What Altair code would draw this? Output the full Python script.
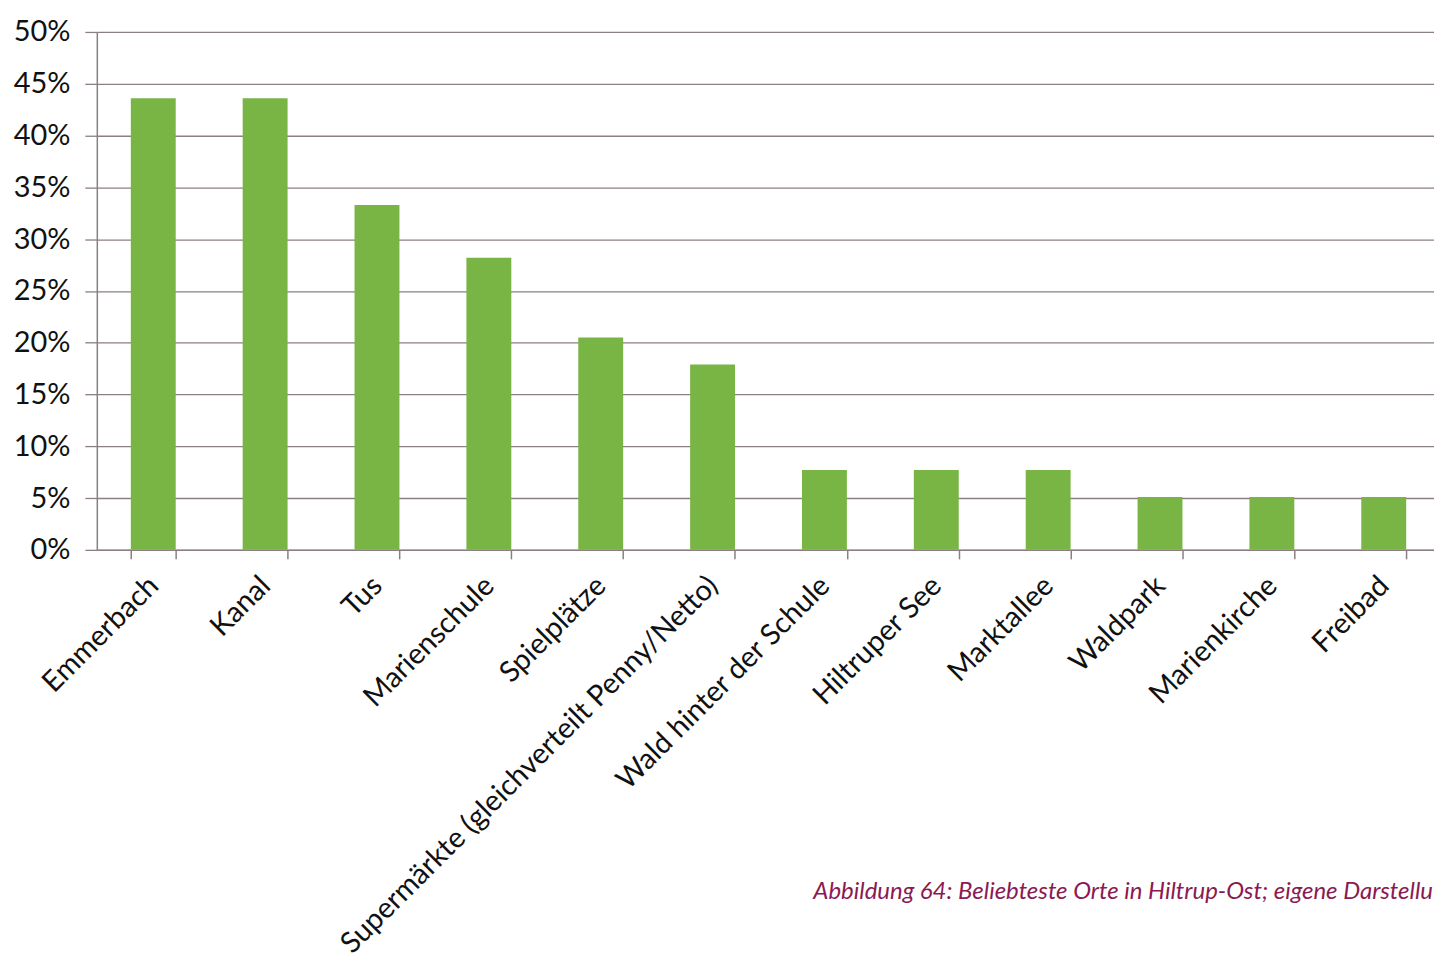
import altair as alt
import pandas as pd

categories = ["Emmerbach", "Kanal", "Tus", "Marienschule", "Spielplätze",
              "Supermärkte (gleichverteilt Penny/Netto)", "Wald hinter der Schule",
              "Hiltruper See", "Marktallee", "Waldpark", "Marienkirche", "Freibad"]
values = [0.436, 0.436, 0.333, 0.282, 0.205, 0.179, 0.077, 0.077, 0.077, 0.051, 0.051, 0.051]
y_ticks = [0, 0.05, 0.10, 0.15, 0.20, 0.25, 0.30, 0.35, 0.40, 0.45, 0.50]
caption = ["Abbildung 64: Beliebteste Orte in Hiltrup-Ost; eigene Darstellu"]

df = pd.DataFrame({"Ort": categories, "Anteil": values})
cap_df = pd.DataFrame({"text": caption})

W, H = 1340, 519
FONT = "Lato"
GRID = "#8c7f7f"

bars = alt.Chart(df).mark_bar(color="#79b545", size=45).encode(
    x=alt.X("Ort:N", sort=categories, title=None,
            scale=alt.Scale(paddingInner=0.6, paddingOuter=0.277, align=0.55),
            axis=alt.Axis(labelAngle=-45, labelAlign="right", labelBaseline="middle",
                          labelFontSize=29, labelFont=FONT, labelColor="#111",
                          labelPadding=22, labelLimit=700,
                          tickBand="extent", tickSize=9, tickColor=GRID,
                          domainColor=GRID, domainWidth=1.5, tickWidth=1.5)),
    y=alt.Y("Anteil:Q", title=None,
            scale=alt.Scale(domain=[0, 0.5], nice=False),
            axis=alt.Axis(values=y_ticks, format=".0%", labelFontSize=29, labelFont=FONT,
                          labelColor="#111", labelPadding=15, tickSize=12,
                          tickColor=GRID, domainColor=GRID, domainWidth=1.5,
                          gridColor=GRID, gridWidth=1.3, tickWidth=1.3)),
)

cap = alt.Chart(cap_df).mark_text(
    align="right", baseline="middle", font=FONT, fontStyle="italic",
    fontSize=24, color="#8a1a52"
).encode(text="text:N", x=alt.value(W - 1), y=alt.value(862))

chart = alt.layer(bars, cap).properties(
    width=W, height=H,
    autosize=alt.AutoSizeParams(type="none"),
    padding={"left": 89, "top": 23, "right": 0, "bottom": 420},
).configure_view(stroke=None)

chart.save("out.html", embed_options={"renderer": "svg", "actions": False})
